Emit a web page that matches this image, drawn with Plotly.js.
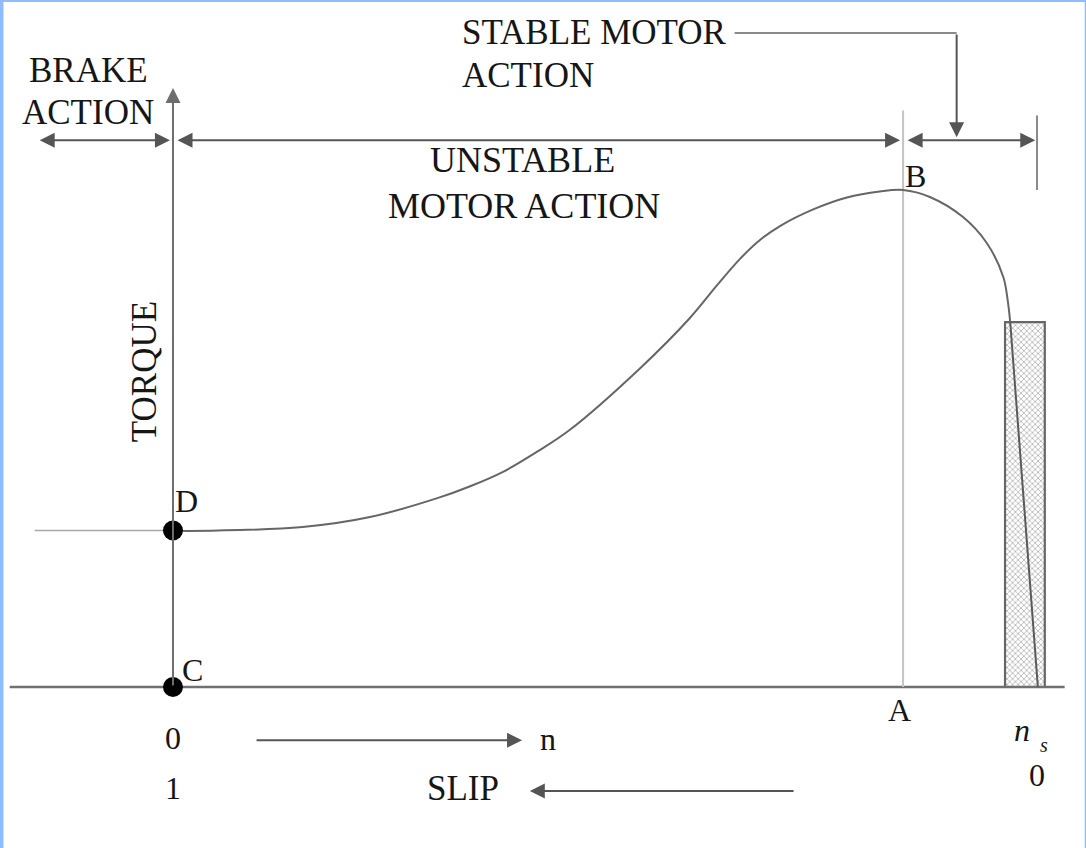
<!DOCTYPE html>
<html>
<head>
<meta charset="utf-8">
<script src="https://cdn.plot.ly/plotly-3.0.1.min.js"></script>
<style>
  html, body { margin: 0; padding: 0; background: #fff; }
  #chart { width: 1086px; height: 848px; }
</style>
</head>
<body>
<div id="chart"></div>
<script>
// Torque–speed characteristic of an induction motor.
// Speed in % of synchronous speed, torque in % of breakdown torque.
const speedPct  = [0, 1.6, 15.0, 22.8, 30.6, 34.4, 38.2, 42.1, 45.9, 54.1, 59.8, 63.0, 65.6, 67.9, 70.3, 74.1, 78.0, 81.8, 84.5, 87.6, 91.4, 94.2, 96.1, 96.6, 96.9];
const torquePct = [31.5, 31.4, 32.2, 34.2, 38.0, 40.4, 43.3, 47.3, 51.7, 64.2, 74.2, 80.9, 86.1, 89.9, 92.8, 96.1, 98.5, 99.7, 100, 98.6, 94.6, 89.3, 82.5, 77.9, 73.4];

// Linear (stable) part near synchronous speed
const stableSpeed  = [96.9, 100.1];
const stableTorque = [73.4, 0];

// Operating band near synchronous speed
const bandSpeed  = [98.6];
const bandTorque = [73.4];
const bandWidth  = 4.6;

// Key points
const syncSpeed = 100;          // n_s
const breakdownSpeed = 84.5;    // A / B
const startTorque = 31.5;       // D
const pointLabels = ['B', 'D', 'C', 'A'];
const speedTicks = ['0', '1', '0'];   // n = 0 / slip = 1 ... n = n_s / slip = 0

const FONT = 'Liberation Serif, Times New Roman, serif';
const INK = '#161616';
const LINE = '#666666';

const traces = [
  // horizontal axis
  { x: [-18.9, 103.2], y: [0, 0], mode: 'lines', line: { color: '#707070', width: 2.5 }, hoverinfo: 'skip' },
  // level of starting torque to the left
  { x: [-16, 0], y: [startTorque, startTorque], mode: 'lines', line: { color: '#a8a8a8', width: 1.6 }, hoverinfo: 'skip' },
  // vertical through breakdown point
  { x: [breakdownSpeed, breakdownSpeed], y: [116, 0], mode: 'lines', line: { color: '#c4c4c4', width: 2 }, hoverinfo: 'skip' },
  // end marker at synchronous speed
  { x: [syncSpeed, syncSpeed], y: [115, 100], mode: 'lines', line: { color: '#8a8a8a', width: 2 }, hoverinfo: 'skip' },
  // bracket from the "stable" label
  { x: [65.0, 90.7], y: [131.6, 131.6], mode: 'lines', line: { color: '#8a8a8a', width: 2 }, hoverinfo: 'skip' },
  // hatched band
  { type: 'bar', x: bandSpeed, y: bandTorque, width: bandWidth,
    marker: { color: '#e4e4e4', line: { color: '#666', width: 2.2 },
              pattern: { shape: 'x', size: 4, solidity: 0.3, fgcolor: '#a0a0a0' } },
    hoverinfo: 'skip' },
  // torque curve
  { x: speedPct, y: torquePct, mode: 'lines', line: { color: LINE, width: 2, shape: 'spline', smoothing: 1 }, hoverinfo: 'skip' },
  { x: stableSpeed, y: stableTorque, mode: 'lines', line: { color: '#5a5a5a', width: 2 }, hoverinfo: 'skip' },
  // points C and D
  { x: [0, 0], y: [0, startTorque], mode: 'markers', marker: { color: '#000', size: 20 }, hoverinfo: 'skip' }
];

function txt(x, y, text, opts) {
  return Object.assign({ x: x, y: y, xref: 'x', yref: 'y', text: text, showarrow: false,
    font: { family: FONT, size: 35, color: INK }, xanchor: 'center', yanchor: 'middle' }, opts || {});
}
function arrow(x0, y0, x1, y1, side, color) {
  return { x: x1, y: y1, ax: x0, ay: y0, xref: 'x', yref: 'y', axref: 'x', ayref: 'y',
    text: '', showarrow: true, arrowhead: 2, arrowsize: 1.5, arrowwidth: 2,
    arrowcolor: color || '#555', arrowside: side || 'end' };
}

const small = { family: FONT, size: 32, color: INK };

const annotations = [
  // torque axis
  arrow(0, 0, 0, 120.5, 'end', '#6e6e6e'),
  // action ranges
  arrow(-15.6, 110, -0.35, 110, 'end+start'),
  arrow(0.35, 110, breakdownSpeed - 0.35, 110, 'end+start'),
  arrow(breakdownSpeed + 0.35, 110, syncSpeed - 0.2, 110, 'end+start'),
  arrow(90.7, 131.6, 90.7, 110.6),
  // direction arrows below the axis
  arrow(9.5, -10.7, 40.4, -10.7),
  arrow(72.0, -20.9, 41.3, -20.9),

  txt(-9.8, 124.0, 'BRAKE'),
  txt(-9.8, 115.5, 'ACTION'),
  txt(33.2, 131.6, 'STABLE MOTOR', { xanchor: 'left' }),
  txt(33.2, 123.1, 'ACTION', { xanchor: 'left' }),
  txt(40.5, 106.0, 'UNSTABLE', { font: { family: FONT, size: 36, color: INK } }),
  txt(40.6, 96.8, 'MOTOR ACTION', { font: { family: FONT, size: 36, color: INK } }),
  txt(-3.2, 63.4, 'TORQUE', { textangle: -90 }),

  txt(85.9, 102.8, pointLabels[0], { font: small }),
  txt(1.6, 37.4, pointLabels[1], { font: small }),
  txt(2.3, 3.4, pointLabels[2], { font: small }),
  txt(84.1, -4.6, pointLabels[3], { font: small }),

  txt(0, -10.3, speedTicks[0], { font: small }),
  txt(0, -20.3, speedTicks[1], { font: small }),
  txt(syncSpeed, -17.7, speedTicks[2], { font: small }),
  txt(43.4, -10.5, 'n', { font: small }),
  txt(33.6, -20.5, 'SLIP', { font: { family: FONT, size: 35, color: INK } }),
  txt(98.3, -8.6, '<i>n</i>', { font: small }),
  txt(100.8, -11.6, '<i>s</i>', { font: { family: FONT, size: 20, color: INK } })
];

const layout = {
  width: 1086, height: 848,
  margin: { l: 0, r: 0, t: 0, b: 0 },
  paper_bgcolor: '#fff', plot_bgcolor: '#fff',
  showlegend: false,
  xaxis: { range: [-20.02, 105.67], visible: false, fixedrange: true },
  yaxis: { range: [-32.39, 138.23], visible: false, fixedrange: true },
  annotations: annotations,
  shapes: [
    { type: 'rect', xref: 'paper', yref: 'paper', x0: 0, x1: 0.0032, y0: 0, y1: 1, fillcolor: '#8dbdfc', line: { width: 0 } },
    { type: 'rect', xref: 'paper', yref: 'paper', x0: 0, x1: 1, y0: 0.9976, y1: 1, fillcolor: '#8dbdfc', line: { width: 0 } },
    { type: 'rect', xref: 'paper', yref: 'paper', x0: 0.9988, x1: 1, y0: 0, y1: 1, fillcolor: '#8dbdfc', line: { width: 0 } }
  ]
};

Plotly.newPlot('chart', traces, layout, { displayModeBar: false, staticPlot: true });
</script>
</body>
</html>
